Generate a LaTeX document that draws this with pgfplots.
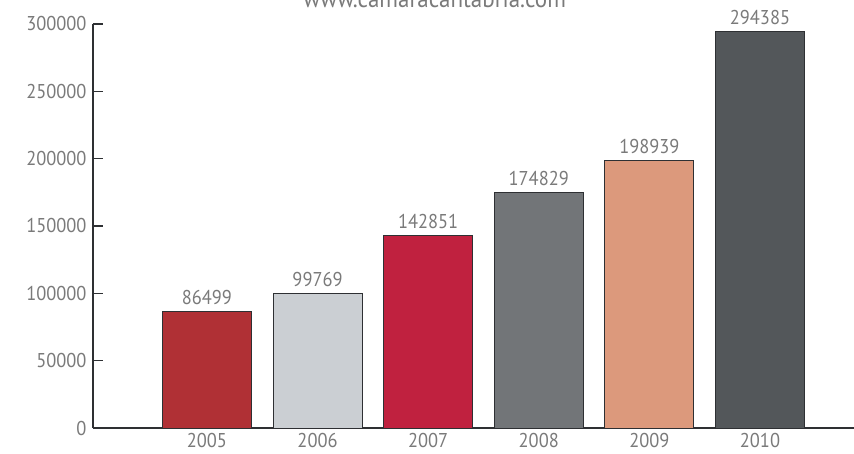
\documentclass[border=0pt]{standalone}
\usepackage{pgfplots}
\pgfplotsset{compat=1.18}
\usepackage{fontspec}
\setmainfont{PT Sans}[FakeStretch=0.92]
\definecolor{c5}{HTML}{B03035}
\definecolor{c6}{HTML}{CBCFD3}
\definecolor{c7}{HTML}{C0213F}
\definecolor{c8}{HTML}{727578}
\definecolor{c9}{HTML}{DC997C}
\definecolor{c10}{HTML}{53575A}
\definecolor{txt}{HTML}{7A7A7A}
\definecolor{axc}{HTML}{2E3033}
\begin{document}
\begin{tikzpicture}
\pgfplotsset{/pgf/number format/.cd, fixed, precision=0, set thousands separator={}}
\begin{axis}[
  scale only axis,
  width=761pt, height=404pt,
  xmin=-1.03, xmax=5.85,
  ymin=0, ymax=300000,
  axis x line=bottom, axis y line=left,
  axis line style={axc, line width=1.6pt, -},
  xtick={0,1,2,3,4,5},
  xticklabels={2005,2006,2007,2008,2009,2010},
  x tick style={draw=none},
  ytick={0,50000,100000,150000,200000,250000,300000},
  y tick style={axc, line width=1.6pt},
  major tick length=10pt,
  tick align=inside,
  scaled y ticks=false,
  /pgf/number format/assume math mode=true,
  tick label style={font=\fontsize{20}{24}\selectfont, text=txt},
  yticklabel style={xshift=-3pt},
  xticklabel style={yshift=-2pt},
  every axis plot/.append style={ybar, bar width=89pt, bar shift=0pt, draw=axc, line width=0.8pt},
  nodes near coords,
  every node near coord/.append style={anchor=base, yshift=7pt, font=\fontsize{20}{24}\selectfont, text=txt},
  clip=false,
]
\addplot[fill=c5] coordinates {(0,86499)};
\addplot[fill=c6] coordinates {(1,99769)};
\addplot[fill=c7] coordinates {(2,142851)};
\addplot[fill=c8] coordinates {(3,174829)};
\addplot[fill=c9] coordinates {(4,198939)};
\addplot[fill=c10] coordinates {(5,294385)};
\coordinate (o) at (rel axis cs:0,0);
\node[anchor=base, text=txt, font=\fontsize{25}{30}\selectfont] at ([yshift=16pt]rel axis cs:0.449,1) {www.camaracantabria.com};
\end{axis}
\pgfresetboundingbox
\path[use as bounding box] (o) ++(-93pt,-25pt) rectangle ++(854pt,453pt);
\end{tikzpicture}
\end{document}
